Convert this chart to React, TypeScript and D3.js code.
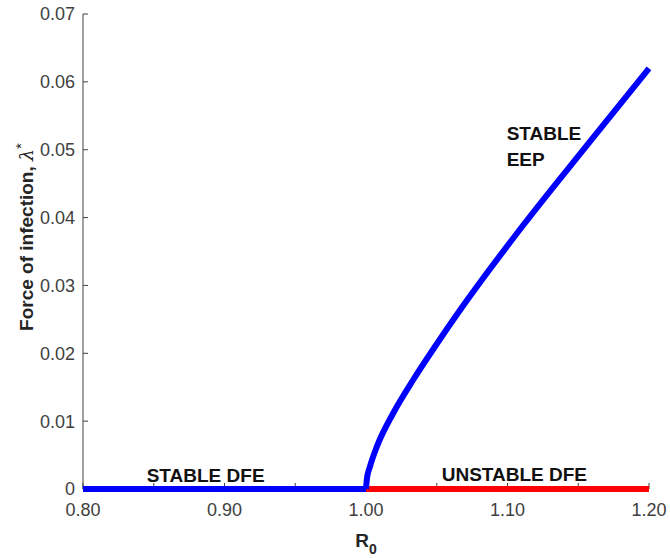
import { useEffect, useRef } from "react";
import * as d3 from "d3";

// equilibrium branch (EEP)
const eepR0 = [1.0, 1.0007, 1.0028, 1.0076, 1.0193, 1.0334, 1.0488, 1.0676, 1.1112, 1.1571, 1.2];
const eepLambda = [0, 0.0016, 0.0033, 0.0062, 0.0112, 0.0161, 0.021, 0.0267, 0.0389, 0.0509, 0.062];

// disease free branches
const stableDfeR0 = [0.8, 1.0];
const unstableDfeR0 = [1.0, 1.2];
const dfeLambda = [0, 0];

const xTicks = [0.8, 0.85, 0.9, 0.95, 1.0, 1.05, 1.1, 1.15, 1.2];
const xTickLabels = [0.8, 0.9, 1.0, 1.1, 1.2];
const yTicks = [0, 0.01, 0.02, 0.03, 0.04, 0.05, 0.06, 0.07];

const FONT = "'Liberation Sans', Arial, Helvetica, sans-serif";

const App = () => {
  const ref = useRef(null);

  useEffect(() => {
    const W = 670;
    const H = 558;
    const svg = d3.select(ref.current).attr("width", W).attr("height", H);
    svg.selectAll("*").remove();

    const x = d3.scaleLinear().domain([0.8, 1.2]).range([83, 649]);
    const y = d3.scaleLinear().domain([0, 0.07]).range([489, 14]);
    const axisColor = "#404040";

    // axes lines
    svg.append("line")
      .attr("x1", x(0.8)).attr("x2", x(0.8))
      .attr("y1", y(0)).attr("y2", y(0.07))
      .attr("stroke", axisColor).attr("stroke-width", 1);
    svg.append("line")
      .attr("x1", x(0.8)).attr("x2", x(1.2))
      .attr("y1", y(0)).attr("y2", y(0))
      .attr("stroke", axisColor).attr("stroke-width", 1);

    // ticks (inward like matlab)
    svg.selectAll(".xt").data(xTicks).join("line")
      .attr("class", "xt")
      .attr("x1", (d) => x(d)).attr("x2", (d) => x(d))
      .attr("y1", y(0)).attr("y2", y(0) - 6)
      .attr("stroke", axisColor);
    svg.selectAll(".yt").data(yTicks).join("line")
      .attr("class", "yt")
      .attr("x1", x(0.8)).attr("x2", x(0.8) + 5)
      .attr("y1", (d) => y(d)).attr("y2", (d) => y(d))
      .attr("stroke", axisColor);

    svg.selectAll(".xl").data(xTickLabels).join("text")
      .attr("class", "xl")
      .attr("x", (d) => x(d))
      .attr("y", 516)
      .attr("text-anchor", "middle")
      .attr("font-family", FONT)
      .attr("font-size", 18)
      .attr("fill", axisColor)
      .text((d) => d3.format(".2f")(d));

    svg.selectAll(".yl").data(yTicks).join("text")
      .attr("class", "yl")
      .attr("x", 75)
      .attr("y", (d) => y(d))
      .attr("dy", "0.36em")
      .attr("text-anchor", "end")
      .attr("font-family", FONT)
      .attr("font-size", 18)
      .attr("fill", axisColor)
      .text((d) => (d === 0 ? "0" : d3.format(".2f")(d)));

    // axis titles
    const xt = svg.append("text")
      .attr("x", x(1.0))
      .attr("y", 547)
      .attr("text-anchor", "middle")
      .attr("font-family", FONT)
      .attr("font-size", 19)
      .attr("font-weight", "bold")
      .attr("fill", "#262626");
    xt.append("tspan").text("R");
    xt.append("tspan").attr("dy", 7).attr("font-size", 14).text("0");

    const yt = svg.append("text")
      .attr("transform", "translate(33,237) rotate(-90)")
      .attr("text-anchor", "middle")
      .attr("font-family", FONT)
      .attr("font-size", 19)
      .attr("font-weight", "bold")
      .attr("fill", "#262626");
    yt.append("tspan").text("Force of infection, ");
    yt.append("tspan").attr("font-style", "italic").attr("font-weight", "normal")
      .attr("font-family", "'DejaVu Serif', serif").text("λ");
    yt.append("tspan").attr("dy", -7).attr("font-size", 15).attr("font-weight", "normal").text("*");

    const line = d3.line()
      .x((d) => x(d[0]))
      .y((d) => y(d[1]));

    svg.append("path")
      .datum(unstableDfeR0.map((r, i) => [r, dfeLambda[i]]))
      .attr("d", line)
      .attr("fill", "none")
      .attr("stroke", "#ff0000")
      .attr("stroke-width", 6);

    svg.append("path")
      .datum(stableDfeR0.map((r, i) => [r, dfeLambda[i]]))
      .attr("d", line)
      .attr("fill", "none")
      .attr("stroke", "#0000ff")
      .attr("stroke-width", 6);

    svg.append("path")
      .datum(eepR0.map((r, i) => [r, eepLambda[i]]))
      .attr("d", line.curve(d3.curveMonotoneX))
      .attr("fill", "none")
      .attr("stroke", "#0000ff")
      .attr("stroke-width", 6);

    // region labels
    const labels = [
      { t: "STABLE DFE", x: 146.7, y: 482 },
      { t: "UNSTABLE DFE", x: 441.7, y: 481 },
      { t: "STABLE", x: 506.7, y: 140 },
      { t: "EEP", x: 506.7, y: 166 },
    ];
    svg.selectAll(".lab").data(labels).join("text")
      .attr("class", "lab")
      .attr("x", (d) => d.x)
      .attr("y", (d) => d.y)
      .attr("font-family", FONT)
      .attr("font-size", 19)
      .attr("font-weight", "bold")
      .attr("fill", "#111")
      .text((d) => d.t);
  }, []);

  return (
    <div style={{ position: "absolute", left: 0, top: 0, width: 670, height: 558, background: "#fff" }}>
      <svg ref={ref}></svg>
    </div>
  );
};

export default App;
